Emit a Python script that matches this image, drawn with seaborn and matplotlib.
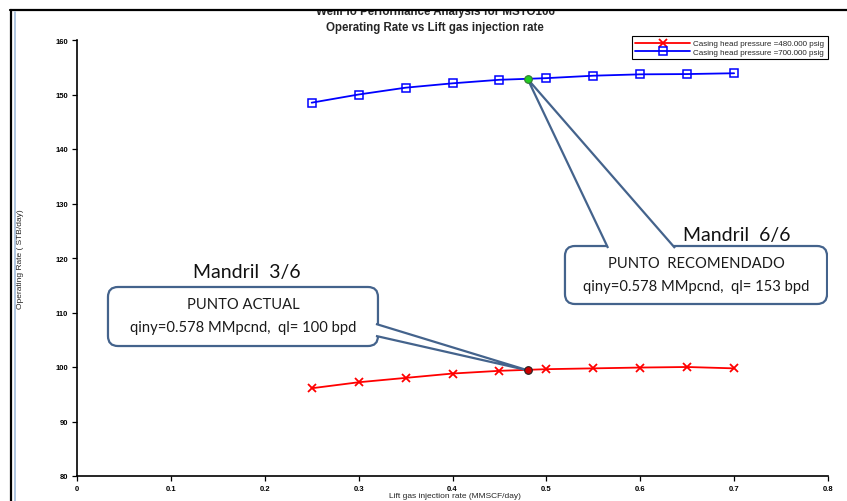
"""
WellFlo performance chart: operating rate vs lift gas injection rate,
with the two callouts for the current and recommended points.
"""
import matplotlib
matplotlib.use('Agg')
import matplotlib.pyplot as plt
import seaborn as sns
from matplotlib.patches import FancyBboxPatch, Polygon, Rectangle
from matplotlib.lines import Line2D

# Data
gas_rate = [0.25, 0.30, 0.35, 0.40, 0.45, 0.50, 0.55, 0.60, 0.65, 0.70]
rate_480 = [96.1, 97.2, 98.0, 98.8, 99.3, 99.6, 99.75, 99.9, 100.0, 99.75]
rate_700 = [148.5, 150.0, 151.25, 152.05, 152.7, 153.0, 153.45, 153.7, 153.75, 153.9]
point_x = 0.48
point_480 = 99.4
point_700 = 152.85

x_ticks = [0, 0.1, 0.2, 0.3, 0.4, 0.5, 0.6, 0.7, 0.8]
x_tick_labels = ['0', '0.1', '0.2', '0.3', '0.4', '0.5', '0.6', '0.7', '0.8']
y_ticks = [80, 90, 100, 110, 120, 130, 140, 150, 160]

series_labels = ['Casing head pressure =480.000 psig',
                 'Casing head pressure =700.000 psig']

sns.set_style("ticks")
plt.rcParams['font.family'] = ['Liberation Sans', 'DejaVu Sans']

W, H = 847, 502
fig = plt.figure(figsize=(W / 100, H / 100), dpi=100)
ax = fig.add_axes([77 / W, 25 / H, 751 / W, 436 / H])

sns.lineplot(x=gas_rate, y=rate_480, ax=ax, color='#ff0000', marker='x',
             markersize=6, markeredgewidth=1.3, markeredgecolor='#ff0000',
             linewidth=1.3, label=series_labels[0])
sns.lineplot(x=gas_rate, y=rate_700, ax=ax, color='#0000ff', marker='s',
             markersize=5.5, markerfacecolor='none', markeredgecolor='#0000ff',
             markeredgewidth=1.1, linewidth=1.3, label=series_labels[1])

# highlighted operating points
ax.plot([point_x], [point_480], marker='o', markersize=5.5, color='#cc0000',
        markeredgecolor='#222222', markeredgewidth=0.8, zorder=9, linestyle='none')
ax.plot([point_x], [point_700], marker='o', markersize=5.5, color='#22cc22',
        markeredgecolor='#337733', markeredgewidth=0.8, zorder=9, linestyle='none')

ax.set_xlim(0, 0.8)
ax.set_ylim(80, 160)
ax.set_xticks(x_ticks)
ax.set_xticklabels(x_tick_labels)
ax.set_yticks(y_ticks)
ax.tick_params(direction='out', length=3.6, width=0.9, labelsize=5.5, pad=3,
               colors='black')
for lbl in ax.get_xticklabels() + ax.get_yticklabels():
    lbl.set_fontweight('bold')

for side in ['top', 'right']:
    ax.spines[side].set_visible(False)
for side in ['left', 'bottom']:
    ax.spines[side].set_color('black')
    ax.spines[side].set_linewidth(1.2)

ax.set_xlabel('Lift gas injection rate (MMSCF/day)', fontsize=6)
ax.set_ylabel('Operating Rate ( STB/day)', fontsize=6)
ax.xaxis.set_label_coords(0.503, -0.036)
ax.yaxis.set_label_coords(-0.071, 0.5)

leg = ax.legend(loc='upper right', bbox_to_anchor=(1.0, 1.009), fontsize=5.8,
                frameon=True, fancybox=False, edgecolor='black', framealpha=1,
                borderaxespad=0, handlelength=6.8, handletextpad=0.4,
                borderpad=0.45, labelspacing=0.1)
leg.get_frame().set_linewidth(0.8)

# Callouts
box_color = '#44638c'
px_x = 0.8 / 751
px_y = 80 / 436
aspect = px_y / px_x


def callout(x0, x1, y0, y1, base, tip):
    box = FancyBboxPatch((x0, y0), x1 - x0, y1 - y0,
                         boxstyle='round,pad=0,rounding_size=%f' % (10 * px_x),
                         mutation_aspect=aspect, facecolor='white',
                         edgecolor=box_color, linewidth=1.6, zorder=5)
    ax.add_patch(box)
    wedge = Polygon([base[0], tip, base[1]], closed=False, facecolor='white',
                    edgecolor=box_color, linewidth=1.6, zorder=6,
                    joinstyle='miter')
    ax.add_patch(wedge)


# PUNTO ACTUAL box
b1 = (0.033, 0.3206, 103.85, 114.68)
callout(*b1, base=[(b1[1] - 2 * px_x, 107.9), (b1[1] - 2 * px_x, 105.7)],
        tip=(point_x, point_480))
# PUNTO RECOMENDADO box
b2 = (0.5198, 0.799, 111.56, 122.2)
callout(*b2, base=[(0.5657, b2[3] - 2 * px_y), (0.637, b2[3] - 2 * px_y)],
        tip=(point_x, point_700))

cfont = ['Lato', 'DejaVu Sans']
ax.text((b1[0] + b1[1]) / 2, 111.5, 'PUNTO ACTUAL', ha='center', va='center',
        fontsize=10.6, family=cfont, color='#1a1a1a', zorder=7)
ax.text((b1[0] + b1[1]) / 2, 107.4, 'qiny=0.578 MMpcnd,  ql= 100 bpd',
        ha='center', va='center', fontsize=10.6, family=cfont, color='#1a1a1a',
        zorder=7)
ax.text(0.1813, 117.6, 'Mandril  3/6', ha='center', va='center', fontsize=14,
        family=cfont, color='#111111', zorder=7)

ax.text((b2[0] + b2[1]) / 2, 119.1, 'PUNTO  RECOMENDADO', ha='center',
        va='center', fontsize=10.6, family=cfont, color='#1a1a1a', zorder=7)
ax.text((b2[0] + b2[1]) / 2, 114.9, 'qiny=0.578 MMpcnd,  ql= 153 bpd',
        ha='center', va='center', fontsize=10.6, family=cfont, color='#1a1a1a',
        zorder=7)
ax.text(0.703, 124.4, 'Mandril  6/6', ha='center', va='center', fontsize=14,
        family=cfont, color='#111111', zorder=7)

# Title (first line partly hidden behind the page frame)
fig.text(435 / W, 1 - 15.5 / H, 'WellFlo Performance Analysis for MSTO106',
         ha='center', va='baseline', fontsize=8.3, fontweight='bold')
fig.text(435 / W, 1 - 31 / H, 'Operating Rate vs Lift gas injection rate',
         ha='center', va='baseline', fontsize=8.3, fontweight='bold')

# page frame from the screenshot
fig.add_artist(Rectangle((0, 1 - 11 / H), 1, 11 / H, transform=fig.transFigure,
                         facecolor='white', edgecolor='none', zorder=20))
fig.add_artist(Line2D([10 / W, 1], [1 - 11 / H, 1 - 11 / H], color='black',
                      linewidth=1.6, zorder=21))
fig.add_artist(Line2D([11 / W, 11 / W], [0, 1 - 11 / H], color='black',
                      linewidth=1.6, zorder=21))
fig.add_artist(Line2D([14.5 / W, 14.5 / W], [0, 1 - 13 / H], color='#a9c1de',
                      linewidth=1.3, zorder=21))

plt.savefig('out.png', dpi=100)
plt.close()
